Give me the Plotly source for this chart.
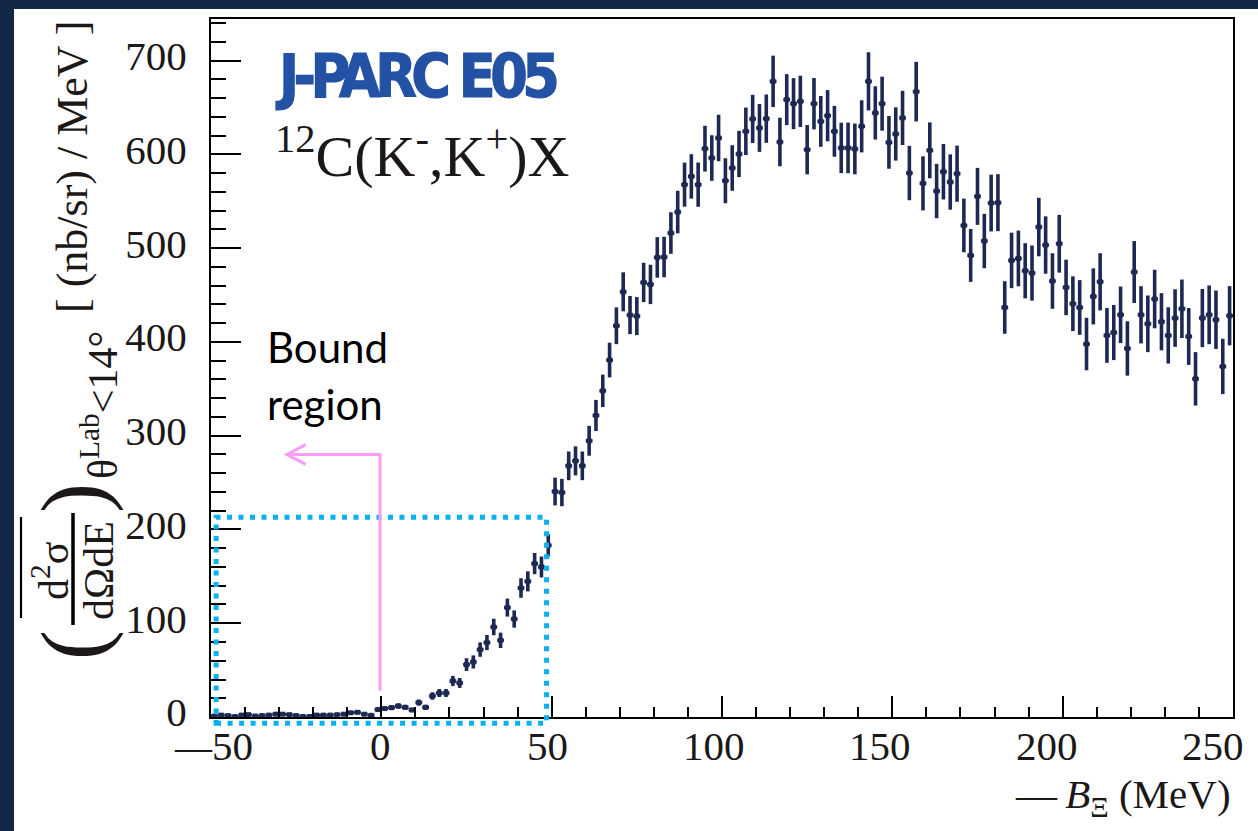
import numpy as np
import plotly.graph_objects as go

# ---------------------------------------------------------------------------
# 12C(K-,K+)X inclusive spectrum, 2 MeV bins from -50 to 250 MeV in -B_Xi
# ---------------------------------------------------------------------------
BIN_LOW, BIN_HIGH, BIN_WIDTH = -50, 250, 2
bin_centers = np.arange(BIN_LOW + BIN_WIDTH / 2, BIN_HIGH, BIN_WIDTH)

# averaged double-differential cross section (nb/sr/MeV), one value per bin
cross_section = [
    1.0, 2.0, 1.5, 0.5, 2.0, 2.5, 1.0, 1.5, 2.0, 3.0,            # -49 .. -31
    3.0, 2.5, 1.5, 0.5, 0.5, 2.0, 2.0, 2.0, 2.5, 3.0,            # -29 .. -11
    4.5, 5.0, 3.0, 1.8, 7.9, 9.0, 10.0, 11.7, 10.3, 7.5,         # -9 .. 9
    15.4, 10.3, 22.4, 25.6, 25.6, 38.4, 36.3, 55.9, 58.7, 71.9,  # 11 .. 29
    79.4, 96.0, 81.8, 116.7, 104.5, 137.6, 144.7, 163.6, 160.0, 183.1,  # 31 .. 49
    240.5, 239.4, 267.9, 273.2, 267.9, 294.6, 321.6, 347.9, 380.7, 417.3,  # 51 .. 69
    453.5, 428.7, 427.6, 463.5, 461.4, 490.2, 490.6, 516.2, 538.6, 567.8,  # 71 .. 89
    576.6, 567.8, 606.2, 596.2, 617.6, 572.0, 585.6, 600.5, 624.7, 637.9,  # 91 .. 109
    628.3, 638.2, 678.0, 613.3, 658.5, 654.2, 656.7, 605.1, 654.2, 635.3,  # 111 .. 129
    641.4, 624.7, 607.0, 607.0, 605.9, 630.0, 678.0, 644.3, 654.2, 612.9,  # 131 .. 149
    621.9, 639.0, 580.2, 667.0, 569.2, 604.4, 561.0, 581.6, 570.6, 579.5,  # 151 .. 169
    524.3, 492.3, 555.3, 507.7, 548.2, 548.6, 436.8, 487.0, 489.1, 476.0,  # 171 .. 189
    473.5, 522.6, 503.4, 465.0, 504.8, 458.2, 440.8, 436.8, 397.8, 448.6,  # 191 .. 209
    464.2, 407.0, 410.1, 429.0, 393.1, 474.6, 429.0, 419.4, 445.8, 421.6,  # 211 .. 229
    407.0, 425.5, 435.4, 405.9, 360.7, 425.5, 429.0, 423.7, 373.9, 428.0,  # 231 .. 249
]

# statistical uncertainty of each bin (nb/sr/MeV)
cross_section_err = [
    1.0, 1.2, 1.0, 0.8, 1.2, 1.3, 1.0, 1.1, 1.2, 1.4,
    1.4, 1.3, 1.1, 0.8, 0.8, 1.2, 1.2, 1.2, 1.3, 1.4,
    1.8, 1.9, 1.5, 1.3, 2.3, 2.5, 2.7, 2.9, 2.7, 2.3,
    3.3, 2.7, 4.0, 4.3, 4.3, 5.4, 5.3, 6.8, 7.0, 7.7,
    8.1, 8.8, 8.2, 9.6, 9.2, 10.4, 10.7, 11.3, 11.2, 11.9,
    14.8, 14.6, 15.3, 15.5, 15.3, 15.9, 16.6, 17.3, 18.5, 19.6,
    20.8, 20.3, 20.3, 21.0, 21.0, 21.6, 21.6, 22.2, 22.7, 23.5,
    23.7, 23.6, 24.4, 24.3, 24.8, 24.0, 24.3, 24.7, 25.3, 25.7,
    25.5, 25.8, 27.4, 25.9, 27.2, 27.2, 27.3, 26.3, 27.4, 27.1,
    27.3, 27.1, 26.9, 27.0, 27.1, 27.8, 31.0, 28.4, 28.8, 28.1,
    28.4, 28.9, 29.0, 31.8, 28.9, 29.8, 29.0, 29.6, 29.5, 29.9,
    28.6, 28.2, 30.4, 29.0, 30.3, 30.4, 28.0, 29.6, 29.7, 29.4,
    29.4, 31.2, 30.6, 29.6, 30.8, 29.6, 29.2, 29.2, 28.0, 29.9,
    30.5, 29.2, 29.4, 30.2, 29.0, 33.0, 30.5, 30.2, 31.2, 30.5,
    30.0, 30.7, 31.2, 30.3, 28.5, 31.0, 31.3, 31.2, 29.5, 31.6,
]

assert len(cross_section) == len(bin_centers) == len(cross_section_err)

x_tick_values = [-50, 0, 50, 100, 150, 200, 250]
x_tick_labels = ["<span style='font-size:37px'>—</span>50", "0", "50", "100", "150", "200", "250"]
y_tick_values = [0, 100, 200, 300, 400, 500, 600, 700]
y_tick_labels = ["0", "100", "200", "300", "400", "500", "600", "700"]

# bound-region marker (box around the Xi bound region, arrow pointing to it)
BOUND_BOX_X = (-48.5, 48.5)
BOUND_BOX_Y = (-6.7, 213.0)
ARROW_X = (-0.4, -27.7)
ARROW_Y = (28.0, 280.0)

# ---------------------------------------------------------------------------
# canvas geometry
# ---------------------------------------------------------------------------
W, H = 1258, 831
M_L, M_R, M_T, M_B = 211, 25, 19, 114
PLOT_W = W - M_L - M_R
PLOT_H = H - M_T - M_B
X_RANGE = [-50, 250]
Y_RANGE = [0, 744.5]
# the x tick labels sit on a slightly compressed scale relative to the ticks
X_LABEL_RANGE = [-50.9, 256.0]

NAVY = "#1d2953"
SERIF = "Liberation Serif"
INK = "#1c1818"


def xp(e):
    return (e - X_RANGE[0]) / (X_RANGE[1] - X_RANGE[0])


def yp(v):
    return (v - Y_RANGE[0]) / (Y_RANGE[1] - Y_RANGE[0])


def xlab(e):
    return (e - X_LABEL_RANGE[0]) / (X_LABEL_RANGE[1] - X_LABEL_RANGE[0])


def px(p):
    return (p - M_L) / PLOT_W


def py(p):
    return (M_T + PLOT_H - p) / PLOT_H


fig = go.Figure()

fig.add_trace(go.Scatter(
    x=bin_centers, y=cross_section,
    mode="markers",
    marker=dict(symbol="square", size=5, color=NAVY),
    error_y=dict(type="data", array=cross_section_err, thickness=3.6, width=0, color=NAVY),
    error_x=dict(type="constant", value=BIN_WIDTH / 2, thickness=3.4, width=0, color=NAVY),
    showlegend=False, hoverinfo="x+y",
))

shapes = []
# slide frame
shapes.append(dict(type="rect", xref="paper", yref="paper", x0=px(0), x1=px(14), y0=py(H), y1=py(0),
                   fillcolor="#122846", line=dict(width=0), layer="below"))
shapes.append(dict(type="rect", xref="paper", yref="paper", x0=px(0), x1=px(W), y0=py(9), y1=py(0),
                   fillcolor="#122846", line=dict(width=0), layer="below"))

# bound region box
shapes.append(dict(type="rect", xref="paper", yref="paper",
                   x0=xp(BOUND_BOX_X[0]), x1=xp(BOUND_BOX_X[1]),
                   y0=yp(BOUND_BOX_Y[0]), y1=yp(BOUND_BOX_Y[1]),
                   line=dict(color="#07b0f0", width=5, dash="5px,6.5px")))

# arrow pointing into the bound region
PINK = "#fc9cf5"
shapes.append(dict(type="path", xref="paper", yref="paper",
                   path=f"M{xp(ARROW_X[0])},{yp(ARROW_Y[0])} L{xp(ARROW_X[0])},{yp(ARROW_Y[1])} L{xp(ARROW_X[1])},{yp(ARROW_Y[1])}",
                   line=dict(color=PINK, width=3)))
head_dx, head_dy = 5.5, 10.5
shapes.append(dict(type="path", xref="paper", yref="paper",
                   path=(f"M{xp(ARROW_X[1] + head_dx)},{yp(ARROW_Y[1] + head_dy)} "
                         f"L{xp(ARROW_X[1])},{yp(ARROW_Y[1])} "
                         f"L{xp(ARROW_X[1] + head_dx)},{yp(ARROW_Y[1] - head_dy)}"),
                   line=dict(color=PINK, width=3)))

# y-title decorations: fraction bar and overline
shapes.append(dict(type="line", xref="paper", yref="paper", x0=px(73), x1=px(73), y0=py(513), y1=py(625),
                   line=dict(color="black", width=3.5)))
shapes.append(dict(type="line", xref="paper", yref="paper", x0=px(21), x1=px(21), y0=py(517), y1=py(618),
                   line=dict(color="black", width=2.2)))

annotations = []


def note(text, x, y, size, family=SERIF, color=INK, angle=0, xa="center", ya="middle", weight="normal",
         xref_paper=False):
    annotations.append(dict(text=text, x=x if xref_paper else px(x), y=py(y), xref="paper", yref="paper",
                            showarrow=False, xanchor=xa, yanchor=ya, textangle=angle,
                            font=dict(size=size, family=family, color=color, weight=weight)))


# x tick labels
for val, lab in zip(x_tick_values, x_tick_labels):
    note(lab, xlab(val), 746, 41, xref_paper=True)

# y-axis title built from pieces (rotated)
note("(", 74, 645, 90, angle=-90)
note(")", 74, 498, 90, angle=-90)
note("d<sup>2</sup>σ", 50, 571, 42, angle=-90)
note("dΩdE", 99, 571, 42, angle=-90)
note("θ<sup>Lab</sup><14°", 99, 405, 42, angle=-90)
note("[ (nb/sr) / MeV ]", 72, 167, 44, angle=-90)

# x-axis title
note("—\u2009<i>B</i><sub>Ξ</sub> (MeV)", 1233, 797, 41, xa="right")

# labels in the frame
note("<span style='letter-spacing:-5.5px;stroke:#2351a4;stroke-width:1.2px'>J-PARC E05</span>", 415, 76, 60,
     family="Liberation Sans Narrow, DejaVu Sans Condensed, Roboto, Arial, sans-serif",
     color="#2351a4", weight="bold")
note("<sup>12</sup>C(K<sup>-</sup>,K<sup>+</sup>)X", 273, 153, 58, xa="left")
note("Bound", 265, 347, 42, family="Lato", color="black", xa="left")
note("region", 265, 404, 42, family="Lato", color="black", xa="left")

fig.update_layout(
    width=W, height=H,
    margin=dict(l=M_L, r=M_R, t=M_T, b=M_B, pad=0),
    paper_bgcolor="white", plot_bgcolor="white",
    shapes=shapes, annotations=annotations,
    xaxis=dict(
        range=X_RANGE, showgrid=False, zeroline=False,
        showline=True, linecolor="black", linewidth=2, mirror=True,
        ticks="inside", tickvals=x_tick_values, ticklen=21, tickwidth=1.7, tickcolor="black",
        showticklabels=False,
        minor=dict(ticks="inside", dtick=10, ticklen=10.5, tickwidth=1.7, tickcolor="black"),
    ),
    yaxis=dict(
        range=Y_RANGE, showgrid=False, zeroline=False,
        showline=True, linecolor="black", linewidth=2, mirror=True,
        ticks="inside", tickvals=y_tick_values, ticktext=y_tick_labels,
        ticklen=30, tickwidth=1.7, tickcolor="black",
        tickfont=dict(family=SERIF, size=41, color=INK), ticklabelstandoff=14, ticklabelshift=-5,
        minor=dict(ticks="inside", dtick=20, ticklen=15, tickwidth=1.7, tickcolor="black"),
    ),
)

fig.write_html("out.html")
